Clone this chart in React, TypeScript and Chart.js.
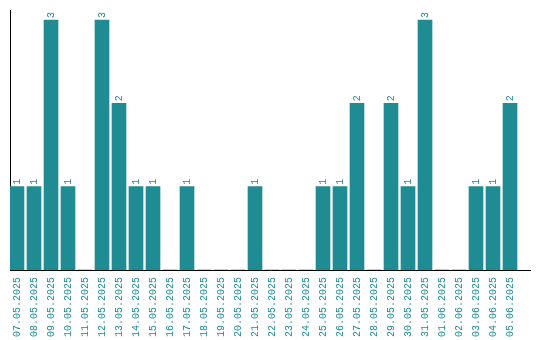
import React, { useEffect, useRef } from "react";
import { Chart, registerables } from "chart.js";

Chart.register(...registerables);

const categories: string[] = [
  "07.05.2025", "08.05.2025", "09.05.2025", "10.05.2025", "11.05.2025",
  "12.05.2025", "13.05.2025", "14.05.2025", "15.05.2025", "16.05.2025",
  "17.05.2025", "18.05.2025", "19.05.2025", "20.05.2025", "21.05.2025",
  "22.05.2025", "23.05.2025", "24.05.2025", "25.05.2025", "26.05.2025",
  "27.05.2025", "28.05.2025", "29.05.2025", "30.05.2025", "31.05.2025",
  "01.06.2025", "02.06.2025", "03.06.2025", "04.06.2025", "05.06.2025",
];

const counts: number[] = [
  1, 1, 3, 1, 0,
  3, 2, 1, 1, 0,
  1, 0, 0, 0, 1,
  0, 0, 0, 1, 1,
  2, 0, 2, 1, 3,
  0, 0, 1, 1, 2,
];

const TEAL = "#1e8c92";
const FONT = { family: "'Liberation Mono', monospace", size: 10 };

const valueLabels = {
  id: "valueLabels",
  afterDatasetsDraw(chart: any) {
    const ctx = chart.ctx;
    const meta = chart.getDatasetMeta(0);
    ctx.save();
    ctx.fillStyle = TEAL;
    ctx.font = `${FONT.size}px ${FONT.family}`;
    ctx.textAlign = "left";
    ctx.textBaseline = "middle";
    meta.data.forEach((bar: any, i: number) => {
      const v = counts[i];
      if (!v) return;
      ctx.save();
      ctx.translate(bar.x, bar.y - 2);
      ctx.rotate(-Math.PI / 2);
      ctx.fillText(String(v), 0, 0);
      ctx.restore();
    });
    ctx.restore();
  },
};

export default function App() {
  const ref = useRef<HTMLCanvasElement | null>(null);

  useEffect(() => {
    if (!ref.current) return;
    const chart = new Chart(ref.current, {
      type: "bar",
      data: {
        datasets: [
          {
            data: counts.map((v, i) => ({ x: i, y: v })),
            backgroundColor: TEAL,
            borderWidth: 0,
            barThickness: 14,
          },
        ],
      },
      options: {
        animation: false,
        responsive: true,
        maintainAspectRatio: false,
        layout: { padding: { left: 10, right: 10, top: 10, bottom: 0 } },
        plugins: {
          legend: { display: false },
          tooltip: { enabled: false },
        },
        scales: {
          x: {
            type: "linear",
            offset: false,
            min: -7 / 17,
            max: 513 / 17,
            grid: { display: false, drawTicks: false, offset: false },
            border: { display: true, color: "#000", width: 1 },
            afterBuildTicks: (scale: any) => {
              scale.ticks = categories.map((_, i) => ({ value: i }));
            },
            afterFit: (scale: any) => {
              scale.height = 70;
              scale.paddingLeft = 0;
              scale.paddingRight = 0;
            },
            ticks: {
              autoSkip: false,
              minRotation: 90,
              maxRotation: 90,
              padding: 7,
              color: TEAL,
              font: FONT,
              callback: (value: any) => categories[Math.round(Number(value))] ?? "",
            },
          },
          y: {
            min: 0,
            max: 3.12,
            grid: { display: false, drawTicks: false },
            border: { display: true, color: "#000", width: 1 },
            ticks: { display: false },
            afterFit: (scale: any) => {
              scale.width = 0;
              scale.paddingTop = 0;
              scale.paddingBottom = 0;
            },
          },
        },
      },
      plugins: [valueLabels],
    });
    return () => chart.destroy();
  }, []);

  return (
    <div style={{ position: "fixed", left: 0, top: 0, width: 540, height: 340, background: "#fff" }}>
      <canvas ref={ref} />
    </div>
  );
}
